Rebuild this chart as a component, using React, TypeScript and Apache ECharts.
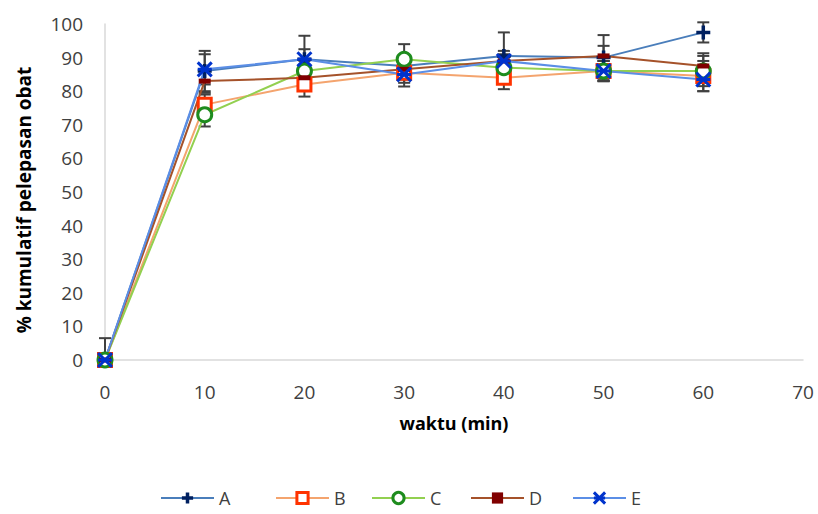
import React, { useEffect, useRef } from "react";
import * as echarts from "echarts";

const times = [0, 10, 20, 30, 40, 50, 60];
const seriesNames = ["A", "B", "C", "D", "E"];
const valuesA = [0, 86, 89.5, 87.5, 90.5, 90, 97.5];
const valuesB = [0, 76, 82, 85.5, 84, 86, 84.5];
const valuesC = [0, 73, 86, 89.5, 87, 86, 86];
const valuesD = [0, 83, 84, 86.5, 89, 90.5, 87.5];
const valuesE = [0, 86.5, 89.5, 85, 89, 86, 83.5];
const errA = [6.5, 6, 7, 3, 7, 6.7, 3];
const errB = [0, 3, 3.6, 3, 3.4, 3, 4.5];
const errC = [0, 3.5, 3, 4.5, 3, 3, 4.5];
const errD = [0, 3.5, 2, 3, 2, 3, 3.8];
const errE = [0, 4.5, 3, 3.6, 3, 3, 3.5];
const xTicks = [0, 10, 20, 30, 40, 50, 60, 70];
const yTicks = [0, 10, 20, 30, 40, 50, 60, 70, 80, 90, 100];

const FONT = "'Open Sans', 'Noto Sans', sans-serif";
const TEXT = "#404040";

const styles = [
  { line: "#4A7EBB", marker: "#002060", symbol: "path://M5,0L5,10M0,5L10,5", size: 14, fill: "#002060", bw: 3.5 },
  { line: "#F4A46E", marker: "#FF3300", symbol: "rect", size: 13, fill: "#ffffff", bw: 3 },
  { line: "#92D050", marker: "#1E8C1E", symbol: "circle", size: 14, fill: "#ffffff", bw: 3 },
  { line: "#A5522A", marker: "#800000", symbol: "rect", size: [12, 5], fill: "#800000", bw: 0 },
  { line: "#5B8EE6", marker: "#0033CC", symbol: "path://M0,0L10,10M10,0L0,10M0,5L10,5", size: 14, fill: "#0033CC", bw: 3 },
];
const legendLeft = [155, 270, 366, 465, 567];

export default function App() {
  const ref = useRef<HTMLDivElement>(null);
  useEffect(() => {
    if (!ref.current) return;
    const chart = echarts.init(ref.current, null, { renderer: "svg" });
    const vals = [valuesA, valuesB, valuesC, valuesD, valuesE];
    const errs = [errA, errB, errC, errD, errE];
    const series: any[] = [];
    vals.forEach((v, i) => {
      series.push({
        type: "custom",
        name: seriesNames[i] + "-err",
        z: 1,
        silent: true,
        data: times
          .map((t, k) => [t, Math.max(0, v[k] - errs[i][k]), v[k] + errs[i][k], errs[i][k]])
          .filter((d) => d[3] > 0),
        renderItem: (params: any, api: any) => {
          const x = api.value(0);
          const lo = api.coord([x, api.value(1)]);
          const hi = api.coord([x, api.value(2)]);
          const w = 6;
          const st = { stroke: "#404040", lineWidth: 2 };
          return {
            type: "group",
            children: [
              { type: "line", shape: { x1: lo[0], y1: lo[1], x2: hi[0], y2: hi[1] }, style: st },
              { type: "line", shape: { x1: lo[0] - w, y1: lo[1], x2: lo[0] + w, y2: lo[1] }, style: st },
              { type: "line", shape: { x1: hi[0] - w, y1: hi[1], x2: hi[0] + w, y2: hi[1] }, style: st },
            ],
          };
        },
      });
    });
    vals.forEach((v, i) => {
      const s = styles[i];
      series.push({
        type: "line",
        name: seriesNames[i],
        z: 3,
        data: times.map((t, k) => [t, v[k]]),
        symbol: s.symbol,
        symbolSize: s.size,
        showAllSymbol: true,
        lineStyle: { color: s.line, width: 2 },
        itemStyle: { color: s.fill, borderColor: s.marker, borderWidth: s.bw },
      });
    });
    const legends = seriesNames.map((n, i) => ({
      data: [
        {
          name: n,
          itemStyle: { color: styles[i].fill, borderColor: styles[i].marker, borderWidth: styles[i].bw },
        },
      ],
      left: legendLeft[i],
      top: 484,
      itemWidth: 53,
      itemHeight: 14,
      textStyle: { color: TEXT, fontSize: 18, fontFamily: FONT },
    }));
    chart.setOption({
      animation: false,
      backgroundColor: "#ffffff",
      textStyle: { fontFamily: FONT },
      grid: { left: 105, right: 15, top: 24, bottom: 154 },
      legend: legends,
      xAxis: {
        type: "value",
        min: xTicks[0],
        max: xTicks[xTicks.length - 1],
        interval: 10,
        name: "waktu (min)",
        nameLocation: "middle",
        nameGap: 54,
        nameTextStyle: { color: "#000", fontSize: 18, fontWeight: "bold", fontFamily: FONT },
        axisLine: { show: true, lineStyle: { color: "#D9D9D9", width: 1.5 } },
        axisTick: { show: false },
        splitLine: { show: false },
        axisLabel: { color: TEXT, fontSize: 19, margin: 22, fontFamily: FONT },
      },
      yAxis: {
        type: "value",
        min: yTicks[0],
        max: yTicks[yTicks.length - 1],
        interval: 10,
        name: "% kumulatif pelepasan obat",
        nameLocation: "middle",
        nameGap: 72,
        nameTextStyle: {
          color: "#000",
          fontSize: 19,
          fontWeight: "bold",
          fontFamily: FONT,
          padding: [0, 16, 0, 0],
        },
        axisLine: { show: true, lineStyle: { color: "#D9D9D9", width: 1.5 } },
        axisTick: { show: false },
        splitLine: { show: false },
        axisLabel: { color: TEXT, fontSize: 19, margin: 22, fontFamily: FONT },
      },
      series,
    });
    return () => chart.dispose();
  }, []);
  return <div ref={ref} style={{ width: 818, height: 514, position: "absolute", left: 0, top: 0 }} />;
}
